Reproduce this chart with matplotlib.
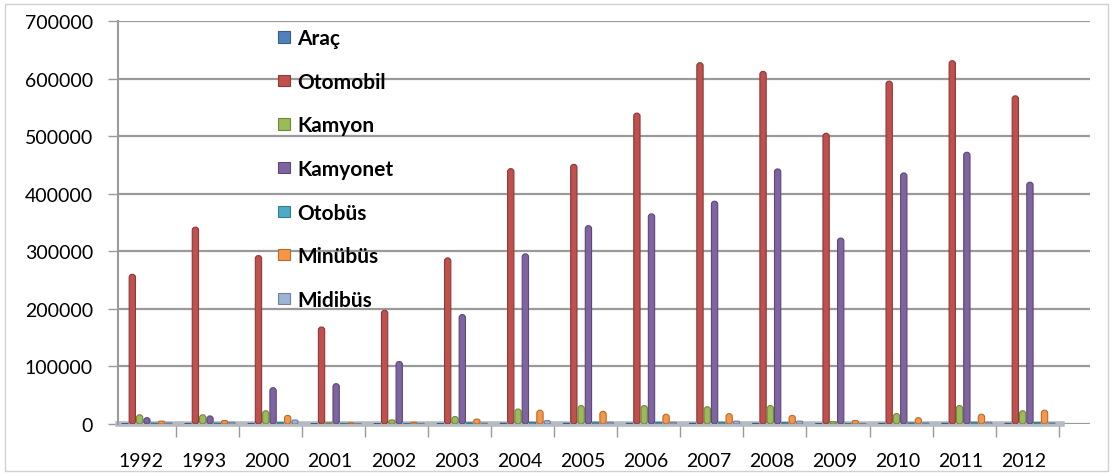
import matplotlib
matplotlib.use("Agg")
import matplotlib.pyplot as plt
import numpy as np
from matplotlib.patches import Patch, Rectangle, FancyBboxPatch
from matplotlib.colors import to_rgb

years = ['1992', '1993', '2000', '2001', '2002', '2003', '2004', '2005',
         '2006', '2007', '2008', '2009', '2010', '2011', '2012']

arac = [800, 900, 1000, 700, 700, 900, 1200, 1200, 1200, 1200, 1100, 800, 1000, 1200, 1100]
otomobil = [260000, 342000, 292500, 168500, 197500, 288500, 443500, 451000,
            540000, 627500, 612500, 505000, 595500, 631000, 570000]
kamyon = [16000, 16000, 23000, 2000, 7000, 13000, 26000, 32000,
          32000, 30000, 32000, 4000, 18000, 32000, 23000]
kamyonet = [11000, 14000, 63000, 70000, 108500, 190000, 295500, 344500,
            365000, 387000, 443000, 323000, 436000, 472000, 420000]
otobus = [1500, 1500, 2500, 1000, 1000, 2000, 3000, 3000, 3000, 3000, 2500, 1000, 2000, 3000, 2500]
minibus = [5000, 6000, 15000, 2000, 3000, 8500, 24000, 22000,
           17000, 18000, 15000, 6000, 11000, 17000, 24000]
midibus = [2000, 3000, 7000, 1000, 1000, 1500, 6000, 3000, 3000, 5000, 5000, 1000, 2000, 3000, 2000]

series = [
    ('Araç', arac, '#4F81BD'),
    ('Otomobil', otomobil, '#C0504D'),
    ('Kamyon', kamyon, '#9BBB59'),
    ('Kamyonet', kamyonet, '#8064A2'),
    ('Otobüs', otobus, '#4BACC6'),
    ('Minübüs', minibus, '#F79646'),
    ('Midibüs', midibus, '#9DB3D6'),
]


def darker(c, f=0.72):
    r, g, b = to_rgb(c)
    return (r * f, g * f, b * f)


plt.rcParams['font.family'] = ['Lato', 'DejaVu Sans']

W, H = 1113, 477
fig = plt.figure(figsize=(W / 100, H / 100), dpi=100)
# plot area in pixels: x 118..1090, y 22..425
ax = fig.add_axes([118 / W, (H - 425) / H, (1090 - 118) / W, (425 - 22) / H])

# outer chart border
fig.patches.append(Rectangle((5 / W, 5 / H), 1103 / W, 467 / H, transform=fig.transFigure,
                             fill=False, edgecolor='#d0d0d0', linewidth=1.0))

ax.set_ylim(0, 700000)
ax.set_xlim(-0.365, 15.046)

cat_px = 63.07
x = np.arange(len(years))
bw = 6.3 / cat_px
# y units per x unit on screen, so the rounded caps stay circular
aspect = (700000 / 403) / (1 / cat_px)
rad = 3.0 / cat_px
for j, (name, vals, col) in enumerate(series):
    off = (-16 + 7.3 * j) / cat_px
    bars = ax.bar(x + off, vals, width=bw, color=col)
    for rect in bars.patches:
        h = rect.get_height()
        r = min(rad, h / aspect / 2)
        cyl = FancyBboxPatch((rect.get_x(), 0), bw, h,
                             boxstyle=f"round,pad=0,rounding_size={r}",
                             mutation_aspect=aspect, facecolor=col,
                             edgecolor=darker(col), linewidth=0.8, zorder=3)
        ax.add_patch(cyl)
        rect.set_visible(False)

ax.set_yticks(np.arange(0, 700001, 100000))
ax.set_yticklabels([str(v) for v in range(0, 700001, 100000)])
ax.set_xticks(x)
ax.set_xticklabels(years)
ax.set_xticks(x + 0.55, minor=True)

ax.grid(axis='y', color='#9a9a9a', linewidth=1.6, zorder=0)
ax.set_axisbelow(True)
for s in ['top', 'right']:
    ax.spines[s].set_visible(False)
ax.spines['left'].set_color('#9a9a9a')
ax.spines['left'].set_linewidth(1.5)
ax.spines['bottom'].set_color('#b4b9c2')
ax.spines['bottom'].set_linewidth(4)
ax.spines['bottom'].set_bounds(-0.365, 14.6)
ax.spines['bottom'].set_zorder(2)

ax.tick_params(axis='y', length=7, width=1, color='#9a9a9a', pad=11, labelsize=14)
ax.tick_params(axis='x', which='major', length=0, pad=20, labelsize=14)
ax.tick_params(axis='x', which='minor', length=9, width=1, color='#9a9a9a')

handles = [Patch(facecolor=c, edgecolor=darker(c), linewidth=0.8) for _, _, c in series]
ax.legend(handles, [n for n, _, _ in series], loc='upper left',
          bbox_to_anchor=(268 / W, 1 - 19 / H), bbox_transform=fig.transFigure,
          frameon=False, borderpad=0, prop={'weight': 'bold', 'size': 15},
          labelspacing=1.13, handlelength=0.55, handleheight=0.45, handletextpad=0.35)

fig.savefig('out.png', dpi=100)
